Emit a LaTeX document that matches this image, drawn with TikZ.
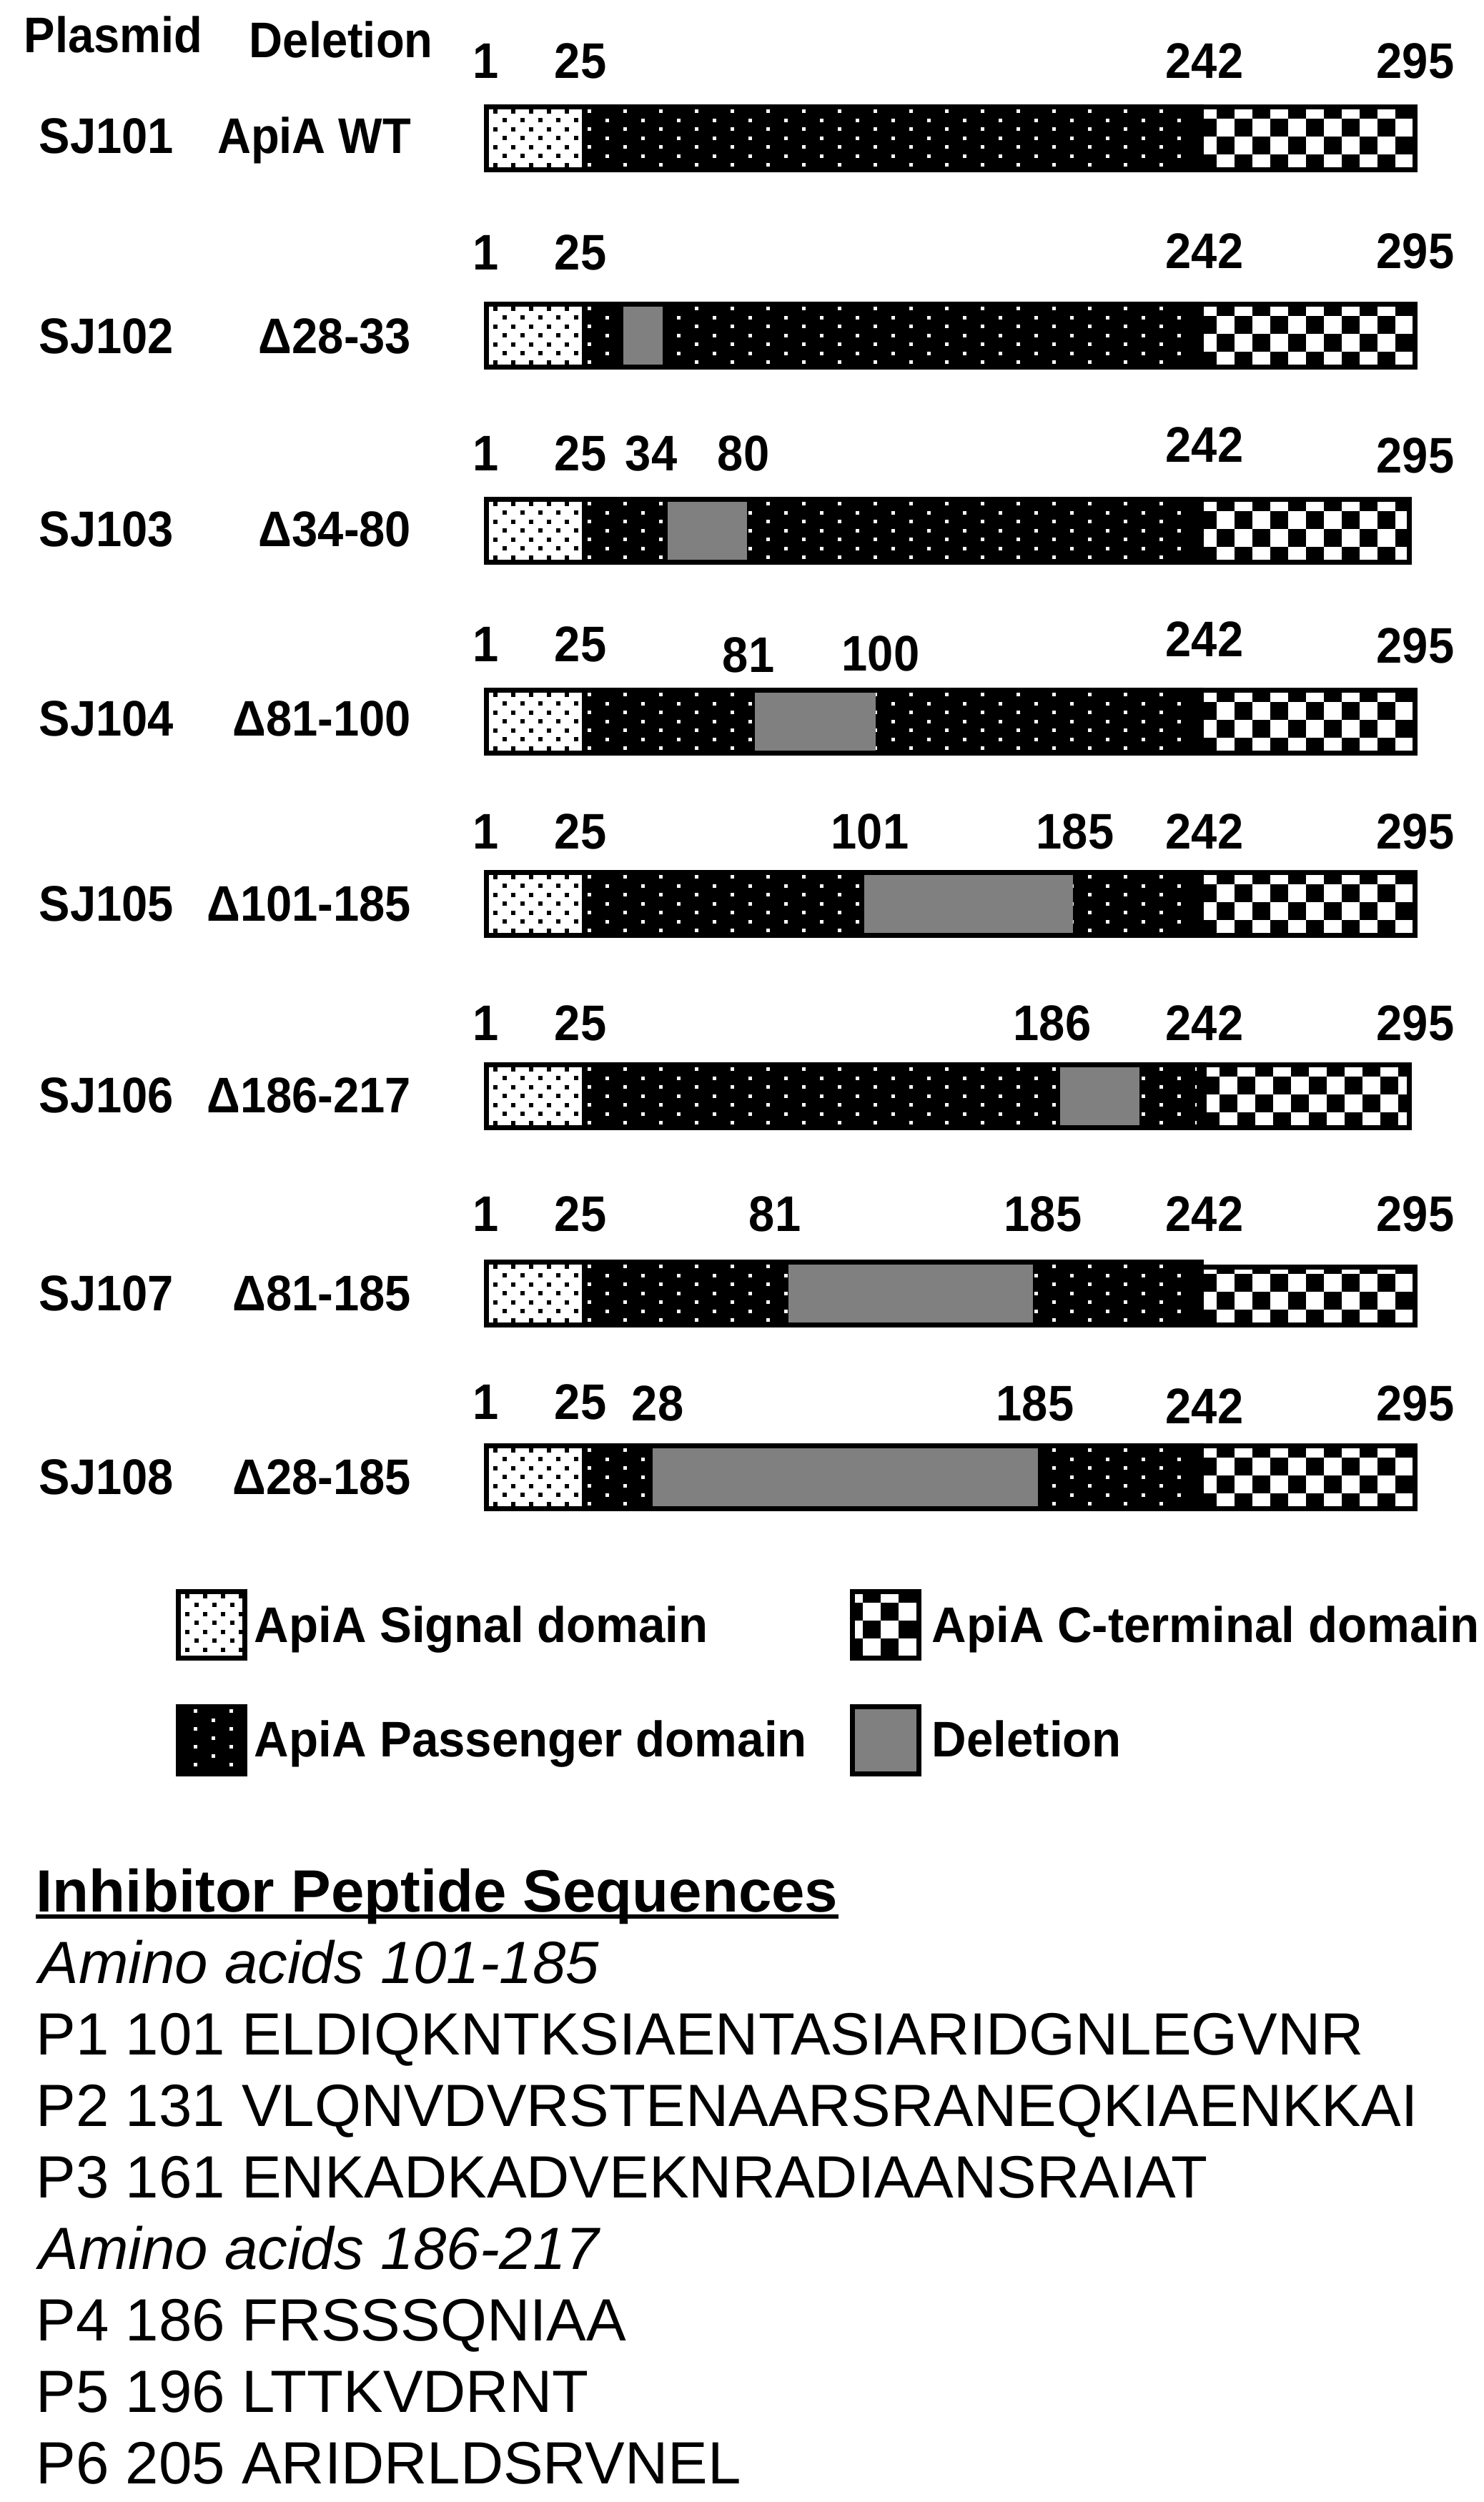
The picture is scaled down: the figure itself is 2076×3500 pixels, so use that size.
\documentclass[tikz,border=0pt]{standalone}
\usepackage{fontspec}
\setmainfont{Liberation Sans}
\newfontfamily\lblf{Liberation Sans}[FakeStretch=0.93]
\newfontfamily\legf{Liberation Sans}[FakeStretch=0.96]
\definecolor{delgray}{RGB}{128,128,128}
\tikzset{
  numl/.style={font=\lblf\bfseries\fontsize{17.5}{20}\selectfont, inner sep=0pt, anchor=base},
  rowl/.style={font=\lblf\bfseries\fontsize{17.5}{20}\selectfont, inner sep=0pt, anchor=base west},
  legl/.style={font=\legf\bfseries\fontsize{17.5}{20}\selectfont, inner sep=0pt, anchor=base west},
  dell/.style={font=\lblf\bfseries\fontsize{17.5}{20}\selectfont, inner sep=0pt, anchor=base east},
  seql/.style={font=\fontsize{20.85}{24}\selectfont, inner sep=0pt, anchor=base west},
}
% black dots on white (signal domain)
\newcommand{\bdots}[4]{\begin{scope}\clip (#1,#2) rectangle (#3,#4);
  \foreach \j in {0,...,7}{\foreach \k in {0,...,6}{%
    \pgfmathsetmacro\xx{#1+9+25*\k+12.5*mod(\j,2)}%
    \pgfmathsetmacro\yy{#2+2.7+12.5*\j}%
    \fill[black] (\xx-3,\yy-3) rectangle (\xx+3,\yy+3);}}
  \end{scope}}
% white dots on black (passenger domain)
\newcommand{\wdots}[5]{\begin{scope}\clip (#1,#2) rectangle (#3,#4);
  \foreach \j in {0,...,7}{\foreach \k in {0,...,20}{%
    \pgfmathsetmacro\xx{#5+50*\k+25*mod(\j,2)}%
    \pgfmathsetmacro\yy{#2+2.7+12.5*\j}%
    \fill[white] (\xx-2.5,\yy-2.5) rectangle (\xx+2.5,\yy+2.5);}}
  \end{scope}}
% checkerboard (C-terminal domain)
\newcommand{\chk}[6]{\fill[white] (#1,#2) rectangle (#3,#4);
  \begin{scope}\clip (#1,#2) rectangle (#3,#4);
  \foreach \j in {0,...,4}{\foreach \k in {0,...,13}{%
    \ifodd\numexpr\k+\j\relax
      \fill[black] ({#5+25*(\k-1)},{#6+25*(\j-1)}) rectangle ++(25,25);
    \fi}}
  \end{scope}}
% full bar: top, right, C start, C top offset
\newcommand{\apibar}[4]{%
  \fill[black] (677,#1) rectangle (#2,#1+95);
  \fill[white] (684,#1+7) rectangle (814,#1+88);
  \bdots{684}{#1+7}{814}{#1+88}
  \wdots{814}{#1+7}{#3-14}{#1+88}{824}
  \fill[white] (#3,#1) rectangle (#2+1,#1+#4);
  \chk{#3}{#1+7+#4}{#2-7}{#1+88}{#3+18.3}{#1+19.7}
}
\begin{document}
\begin{tikzpicture}[x=0.25pt,y=-0.25pt]
\useasboundingbox (0,0) rectangle (2076,3500);
\fill[white] (0,0) rectangle (2076,3500);

% headers
\node[rowl] (hplas) at (33,74) {Plasmid};
\node[rowl] (hdel) at (348,81) {Deletion};

% bars
\apibar{146}{1983}{1684}{0}
\apibar{422}{1983}{1684}{0}
\fill[delgray] (872,429) rectangle (927,510);
\apibar{695}{1975}{1684}{0}
\fill[delgray] (934,702) rectangle (1045,783);
\apibar{962}{1983}{1684}{0}
\fill[delgray] (1056,969) rectangle (1225,1050);
\apibar{1217}{1983}{1684}{0}
\fill[delgray] (1209,1224) rectangle (1501,1305);
\apibar{1486}{1975}{1688}{0}
\fill[delgray] (1483,1493) rectangle (1594,1574);
\apibar{1762}{1983}{1684}{7}
\fill[delgray] (1103,1769) rectangle (1445,1850);
\apibar{2019}{1983}{1684}{0}
\fill[delgray] (913,2026) rectangle (1452,2107);

% row labels
\node[rowl] (p1) at (54,215) {SJ101};  \node[dell] (d1) at (576,215) {ApiA WT};
\node[rowl] (p2) at (54,494) {SJ102};  \node[dell] (d2) at (576,494) {Δ28-33};
\node[rowl] (p3) at (54,764) {SJ103};  \node[dell] (d3) at (576,764) {Δ34-80};
\node[rowl] (p4) at (54,1029) {SJ104}; \node[dell] (d4) at (576,1029) {Δ81-100};
\node[rowl] (p5) at (54,1288) {SJ105}; \node[dell] (d5) at (576,1288) {Δ101-185};
\node[rowl] (p6) at (54,1556) {SJ106}; \node[dell] (d6) at (576,1556) {Δ186-217};
\node[rowl] (p7) at (54,1833) {SJ107}; \node[dell] (d7) at (576,1833) {Δ81-185};
\node[rowl] (p8) at (54,2090) {SJ108}; \node[dell] (d8) at (576,2090) {Δ28-185};

% position numbers
\node[numl] (a1) at (680,110) {1};  \node[numl] (a2) at (812,110) {25};
\node[numl] (a3) at (1685,110) {242}; \node[numl] (a4) at (1980,110) {295};

\node[numl] (b1) at (680,377) {1};  \node[numl] (b2) at (812,377) {25};
\node[numl] (b3) at (1685,375) {242}; \node[numl] (b4) at (1980,375) {295};

\node[numl] (c1) at (680,658) {1};  \node[numl] (c2) at (812,658) {25};
\node[numl] (c3) at (911,658) {34};  \node[numl] (c4) at (1040,658) {80};
\node[numl] (c5) at (1685,646) {242}; \node[numl] (c6) at (1980,661) {295};

\node[numl] (e1) at (680,925) {1};  \node[numl] (e2) at (812,925) {25};
\node[numl] (e3) at (1047,940) {81};  \node[numl] (e4) at (1232,938) {100};
\node[numl] (e5) at (1685,918) {242}; \node[numl] (e6) at (1980,927) {295};

\node[numl] (f1) at (680,1187) {1};  \node[numl] (f2) at (812,1187) {25};
\node[numl] (f3) at (1217,1187) {101};  \node[numl] (f4) at (1504,1187) {185};
\node[numl] (f5) at (1685,1187) {242}; \node[numl] (f6) at (1980,1187) {295};

\node[numl] (g1) at (680,1455) {1};  \node[numl] (g2) at (812,1455) {25};
\node[numl] (g3) at (1472,1455) {186};
\node[numl] (g5) at (1685,1455) {242}; \node[numl] (g6) at (1980,1455) {295};

\node[numl] (h1) at (680,1722) {1};  \node[numl] (h2) at (812,1722) {25};
\node[numl] (h3) at (1084,1722) {81};  \node[numl] (h4) at (1459,1722) {185};
\node[numl] (h5) at (1685,1722) {242}; \node[numl] (h6) at (1980,1722) {295};

\node[numl] (i1) at (680,1985) {1};  \node[numl] (i2) at (812,1985) {25};
\node[numl] (i3) at (920,1987) {28};  \node[numl] (i4) at (1448,1987) {185};
\node[numl] (i5) at (1685,1991) {242}; \node[numl] (i6) at (1980,1987) {295};

% legend
\fill[black] (246,2223) rectangle (346,2323);
\fill[white] (253,2230) rectangle (339,2316);
\bdots{253}{2230}{339}{2316}
\fill[black] (246,2384) rectangle (346,2485);
\wdots{253}{2391}{339}{2478}{273}
\fill[black] (1189,2223) rectangle (1289,2323);
\chk{1196}{2230}{1282}{2316}{1207}{2242}
\fill[black] (1189,2384) rectangle (1289,2485);
\fill[delgray] (1196,2391) rectangle (1282,2478);
\node[legl] (lsig) at (355,2297) {ApiA Signal domain};
\node[legl] (lcte) at (1303,2297) {ApiA C-terminal domain};
\node[legl] (lpas) at (355,2457) {ApiA Passenger domain};
\node[legl] (ldel) at (1303,2457) {Deletion};

% sequences
\node[seql,font=\fontsize{20.85}{24}\selectfont\bfseries] (title) at (50,2674) {Inhibitor Peptide Sequences};
\draw[line width=1.5pt] ([yshift=-1.75pt]title.base west) -- ([yshift=-1.75pt]title.base east);
\node[seql,font=\fontsize{20.85}{24}\selectfont\itshape] (aa1) at (54,2774) {Amino acids 101-185};
\node[seql] (s1) at (50,2874) {P1 101 ELDIQKNTKSIAENTASIARIDGNLEGVNR};
\node[seql] (s2) at (50,2974) {P2 131 VLQNVDVRSTENAARSRANEQKIAENKKAI};
\node[seql] (s3) at (50,3074) {P3 161 ENKADKADVEKNRADIAANSRAIAT};
\node[seql,font=\fontsize{20.85}{24}\selectfont\itshape] (aa2) at (54,3174) {Amino acids 186-217};
\node[seql] (s4) at (50,3274) {P4 186 FRSSSQNIAA};
\node[seql] (s5) at (50,3374) {P5 196 LTTKVDRNT};
\node[seql] (s6) at (50,3474) {P6 205 ARIDRLDSRVNEL};
\end{tikzpicture}
\end{document}
